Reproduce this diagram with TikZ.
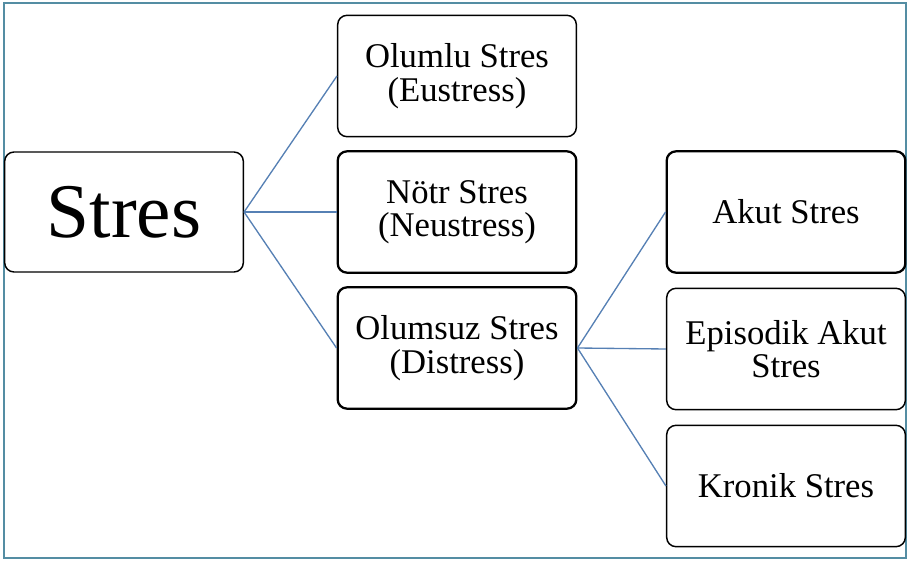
\documentclass[tikz,border=0pt]{standalone}
\usepackage{fontspec}
\setmainfont{Liberation Serif}
\usepackage{xcolor}
\usepackage{tikz}
\usetikzlibrary{positioning}

\definecolor{frameblue}{RGB}{84,141,163}
\definecolor{linkblue}{RGB}{86,128,180}

\begin{document}
\begin{tikzpicture}[
    x=0.75pt, y=-0.75pt,
    sbox/.style={draw, rounded corners=7pt, line width=1.1pt, align=center, inner sep=0pt,
        minimum width=179pt, minimum height=91pt, font=\fontsize{26}{25}\selectfont},
    sboxthick/.style={sbox, line width=1.7pt},
    link/.style={draw=linkblue, line width=1pt}
]
\useasboundingbox (0,0) rectangle (910,563);
\draw[frameblue, line width=1.5pt] (4,3) rectangle (906,558);

% main node
\node[sbox, minimum height=90pt, font=\fontsize{58}{60}\selectfont] (stres) at (124,212) {Stres};

% second level
\node[sbox] (olumlu) at (457,76) {Olumlu Stres\\(Eustress)};
\node[sboxthick] (notr) at (457,212) {Nötr Stres\\(Neustress)};
\node[sboxthick] (olumsuz) at (457,348) {Olumsuz Stres\\(Distress)};

% third level
\node[sboxthick] (akut) at (786,212) {Akut Stres};
\node[sbox] (episodik) at (786,349) {Episodik Akut\\Stres};
\node[sbox] (kronik) at (786,486) {Kronik Stres};

\draw[link] (stres.east) -- (olumlu.west);
\draw[link] (stres.east) -- (notr.west);
\draw[link] (stres.east) -- (olumsuz.west);
\draw[link] (olumsuz.east) -- (akut.west);
\draw[link] (olumsuz.east) -- (episodik.west);
\draw[link] (olumsuz.east) -- (kronik.west);
\end{tikzpicture}
\end{document}
